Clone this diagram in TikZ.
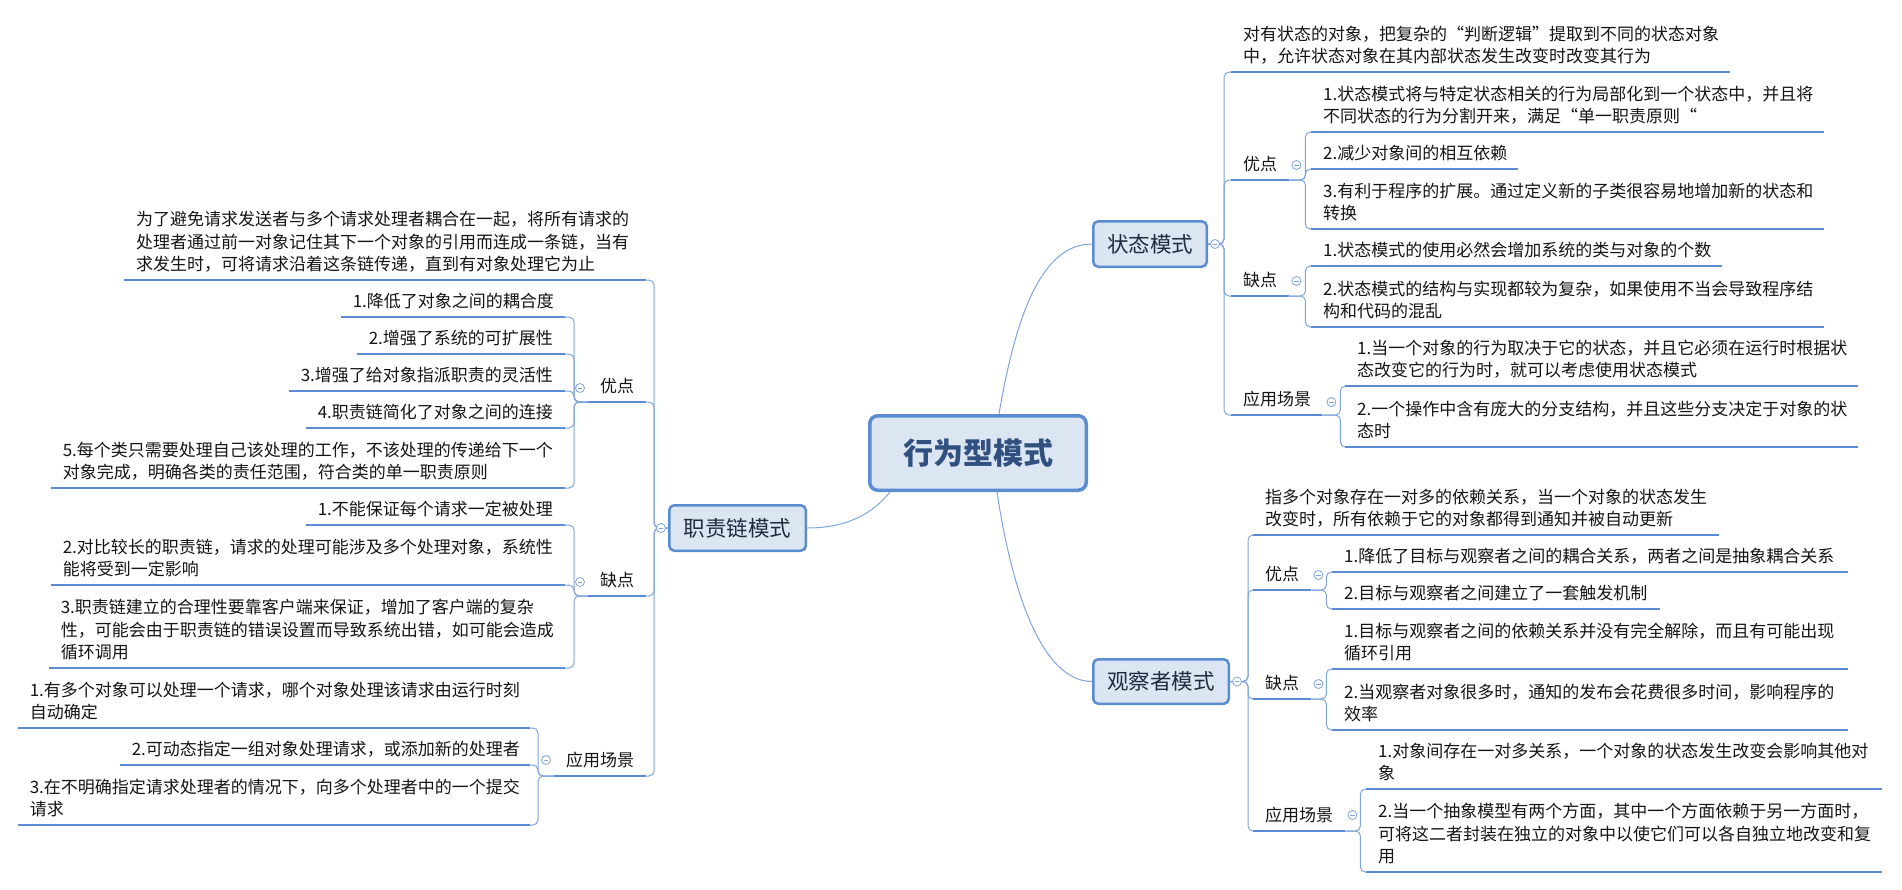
\documentclass[tikz,border=0pt]{standalone}
\usepackage{fontspec}
\setmainfont{Noto Sans CJK SC}
\usetikzlibrary{positioning, calc}
\definecolor{linkblue}{HTML}{7DA4DC}
\definecolor{ulblue}{HTML}{5B8BD4}
\definecolor{boxfill}{HTML}{DCE6F2}
\definecolor{boxline}{HTML}{5A8CD2}
\definecolor{hubtext}{HTML}{30507F}
\definecolor{subtext}{HTML}{1E2C40}
\newcommand{\bodyfont}{\fontsize{17}{22.5}\selectfont}

\begin{document}
\begin{tikzpicture}[x=1pt, y=-1pt,
  hub/.style={draw=boxline, line width=3.5pt, rounded corners=8pt, fill=boxfill, minimum width=216.5pt, minimum height=74.5pt, font=\fontsize{30}{36}\selectfont\bfseries, text=hubtext},
  branch/.style={draw=boxline, line width=2.5pt, rounded corners=5pt, fill=boxfill, minimum height=45.5pt, font=\fontsize{21.5}{26}\selectfont, text=subtext},
  topic/.style={anchor=south west, align=left, inner xsep=12pt, inner ysep=2.25pt, font=\bodyfont, text=black!92, execute at end node=\strut},
  ltopic/.style={topic, anchor=south east, align=right},
  link/.style={draw=linkblue, line width=1pt, rounded corners=5pt},
  uline/.style={draw=ulblue, line width=2.6pt},
  fold/.style={circle, draw=linkblue, fill=white, line width=0.8pt, minimum size=9pt, inner sep=0pt,
    path picture={\draw[linkblue, line width=0.8pt] ([xshift=-2.4pt]path picture bounding box.center) -- ([xshift=2.4pt]path picture bounding box.center);}}
]
\useasboundingbox (0,0) rectangle (1902,889);

% Root
\node[hub] (hub) at (978,453) {行为型模式};

% Main branches
\node[branch, minimum width=113.5pt] (zt) at (1150,244) {状态模式};
\node[branch, minimum width=135.5pt, minimum height=44.5pt] (gc) at (1161,681.5) {观察者模式};
\node[branch, minimum width=136.5pt] (zr) at (737.5,528) {职责链模式};

% State pattern
\node[topic, text width=475pt] (s0) at (1231,72) {对有状态的对象，把复杂的“判断逻辑”提取到不同的状态对象\\中，允许状态对象在其内部状态发生改变时改变其行为};
\node[topic, text width=34pt] (s1) at (1231,180) {优点};
\node[topic, text width=489pt] (s11) at (1311,132) {1.状态模式将与特定状态相关的行为局部化到一个状态中，并且将\\不同状态的行为分割开来，满足“单一职责原则“};
\node[topic, text width=183pt] (s12) at (1311,169) {2.减少对象间的相互依赖};
\node[topic, text width=489pt] (s13) at (1311,229) {3.有利于程序的扩展。通过定义新的子类很容易地增加新的状态和\\转换};
\node[topic, text width=34pt] (s2) at (1231,296) {缺点};
\node[topic, text width=387pt] (s21) at (1311,266) {1.状态模式的使用必然会增加系统的类与对象的个数};
\node[topic, text width=489pt] (s22) at (1311,327) {2.状态模式的结构与实现都较为复杂，如果使用不当会导致程序结\\构和代码的混乱};
\node[topic, text width=67pt] (s3) at (1231,415) {应用场景};
\node[topic, text width=489pt] (s31) at (1345,386) {1.当一个对象的行为取决于它的状态，并且它必须在运行时根据状\\态改变它的行为时，就可以考虑使用状态模式};
\node[topic, text width=489pt] (s32) at (1345,447) {2.一个操作中含有庞大的分支结构，并且这些分支决定于对象的状\\态时};

% Observer pattern
\node[topic, text width=442pt] (g0) at (1253,535) {指多个对象存在一对多的依赖关系，当一个对象的状态发生\\改变时，所有依赖于它的对象都得到通知并被自动更新};
\node[topic, text width=34pt] (g1) at (1253,590) {优点};
\node[topic, text width=492pt] (g11) at (1332,572) {1.降低了目标与观察者之间的耦合关系，两者之间是抽象耦合关系};
\node[topic, text width=304pt] (g12) at (1332,609) {2.目标与观察者之间建立了一套触发机制};
\node[topic, text width=34pt] (g2) at (1253,699) {缺点};
\node[topic, text width=492pt] (g21) at (1332,669) {1.目标与观察者之间的依赖关系并没有完全解除，而且有可能出现\\循环引用};
\node[topic, text width=492pt] (g22) at (1332,730) {2.当观察者对象很多时，通知的发布会花费很多时间，影响程序的\\效率};
\node[topic, text width=68pt] (g3) at (1253,831) {应用场景};
\node[topic, text width=492pt] (g31) at (1366,789) {1.对象间存在一对多关系，一个对象的状态发生改变会影响其他对\\象};
\node[topic, text width=492pt] (g32) at (1366,872) {2.当一个抽象模型有两个方面，其中一个方面依赖于另一方面时，\\可将这二者封装在独立的对象中以使它们可以各自独立地改变和复\\用};

% Chain of responsibility
\node[topic, text width=498pt] (r0) at (124,280) {为了避免请求发送者与多个请求处理者耦合在一起，将所有请求的\\处理者通过前一对象记住其下一个对象的引用而连成一条链，当有\\求发生时，可将请求沿着这条链传递，直到有对象处理它为止};
\node[topic, text width=34pt] (r1) at (588,402) {优点};
\node[ltopic, text width=200pt] (r11) at (565,317) {1.降低了对象之间的耦合度};
\node[ltopic, text width=184pt] (r12) at (565,354) {2.增强了系统的可扩展性};
\node[ltopic, text width=252pt] (r13) at (565,391) {3.增强了给对象指派职责的灵活性};
\node[ltopic, text width=235pt] (r14) at (565,428) {4.职责链简化了对象之间的连接};
\node[ltopic, align=left, text width=490pt] (r15) at (565,488) {5.每个类只需要处理自己该处理的工作，不该处理的传递给下一个\\对象完成，明确各类的责任范围，符合类的单一职责原则};
\node[topic, text width=34pt] (r2) at (588,596) {缺点};
\node[ltopic, text width=235pt] (r21) at (565,525) {1.不能保证每个请求一定被处理};
\node[ltopic, align=left, text width=490pt] (r22) at (565,585) {2.对比较长的职责链，请求的处理可能涉及多个处理对象，系统性\\能将受到一定影响};
\node[ltopic, align=left, text width=492pt] (r23) at (565,668) {3.职责链建立的合理性要靠客户端来保证，增加了客户端的复杂\\性，可能会由于职责链的错误设置而导致系统出错，如可能会造成\\循环调用};
\node[topic, text width=68pt] (r3) at (554,776) {应用场景};
\node[ltopic, align=left, text width=488pt] (r31) at (530,728) {1.有多个对象可以处理一个请求，哪个对象处理该请求由运行时刻\\自动确定};
\node[ltopic, text width=386pt] (r32) at (530,765) {2.可动态指定一组对象处理请求，或添加新的处理者};
\node[ltopic, align=left, text width=488pt] (r33) at (530,825) {3.在不明确指定请求处理者的情况下，向多个处理者中的一个提交\\请求};

% Root connections
\draw[link] ([xshift=21pt]hub.north) .. controls +(17,-100) and +(-50,0) .. (zt.west);
\draw[link] ([xshift=19pt]hub.south) .. controls +(15,100) and +(-50,0) .. (gc.west);
\draw[link] ([xshift=22pt]hub.south west) .. controls +(-20,25) and +(35,0) .. (zr.east);

% Branch connections
\foreach \c in {s0,s1,s2,s3} \draw[link] (zt.east) -- ++(16,0) |- (\c.south west);
\foreach \c in {s11,s12,s13} \draw[link] (s1.south east) -- ++(16,0) |- (\c.south west);
\foreach \c in {s21,s22} \draw[link] (s2.south east) -- ++(16,0) |- (\c.south west);
\foreach \c in {s31,s32} \draw[link] (s3.south east) -- ++(18,0) |- (\c.south west);
\foreach \c in {g0,g1,g2,g3} \draw[link] (gc.east) -- ++(18,0) |- (\c.south west);
\foreach \c in {g11,g12} \draw[link] (g1.south east) -- ++(15,0) |- (\c.south west);
\foreach \c in {g21,g22} \draw[link] (g2.south east) -- ++(15,0) |- (\c.south west);
\foreach \c in {g31,g32} \draw[link] (g3.south east) -- ++(15,0) |- (\c.south west);
\foreach \c in {r0,r1,r2,r3} \draw[link] (zr.west) -- ++(-14,0) |- (\c.south east);
\foreach \c in {r11,r12,r13,r14,r15} \draw[link] (r1.south west) -- ++(-14,0) |- (\c.south east);
\foreach \c in {r21,r22,r23} \draw[link] (r2.south west) -- ++(-14,0) |- (\c.south east);
\foreach \c in {r31,r32,r33} \draw[link] (r3.south west) -- ++(-16,0) |- (\c.south east);

% Underlines
\foreach \n in {s0,s1,s11,s12,s13,s2,s21,s22,s3,s31,s32,g0,g1,g11,g12,g2,g21,g22,g3,g31,g32,r0,r1,r11,r12,r13,r14,r15,r2,r21,r22,r23,r3,r31,r32,r33}
  \draw[uline] (\n.south west) -- (\n.south east);

% Fold markers
\node[fold] (zt-fold) at ([xshift=7pt]zt.east) {};
\node[fold] (gc-fold) at ([xshift=7pt]gc.east) {};
\node[fold] (zr-fold) at ([xshift=-7pt]zr.west) {};
\node[fold] (s1-fold) at ([shift={(7,-15)}]s1.south east) {};
\node[fold] (s2-fold) at ([shift={(7,-15)}]s2.south east) {};
\node[fold] (s3-fold) at ([shift={(9,-13)}]s3.south east) {};
\node[fold] (g1-fold) at ([shift={(7,-15)}]g1.south east) {};
\node[fold] (g2-fold) at ([shift={(7,-15)}]g2.south east) {};
\node[fold] (g3-fold) at ([shift={(7,-16)}]g3.south east) {};
\node[fold] (r1-fold) at ([shift={(-8,-14)}]r1.south west) {};
\node[fold] (r2-fold) at ([shift={(-8,-14)}]r2.south west) {};
\node[fold] (r3-fold) at ([shift={(-8,-16)}]r3.south west) {};

\end{tikzpicture}
\end{document}
